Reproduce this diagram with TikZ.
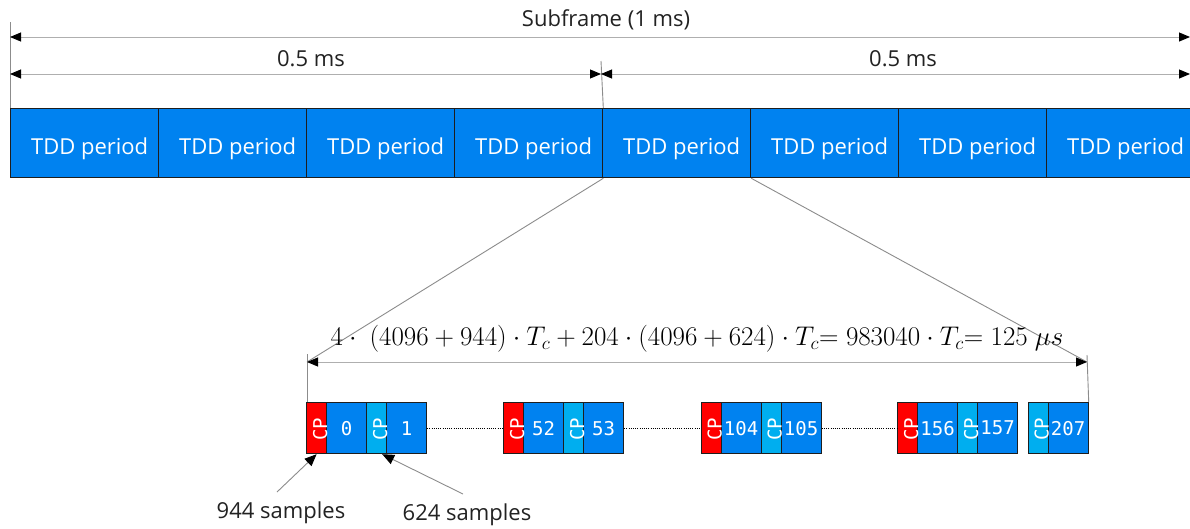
\RequirePackage{fix-cm}
\documentclass[tikz,border=0pt]{standalone}
\usepackage{fontspec}
\setmainfont{Open Sans}
\newfontfamily\monof{DejaVu Sans Mono}
\usetikzlibrary{arrows.meta}
\definecolor{eblue}{HTML}{0082F0}
\definecolor{ecyan}{HTML}{00AEEF}
\definecolor{ered}{HTML}{FF0000}
\definecolor{eline}{HTML}{1E1E1E}
\definecolor{egray}{HTML}{8C8C8C}
\definecolor{etext}{HTML}{222222}
\begin{document}
\begin{tikzpicture}[x=1pt,y=-1pt,
  tdd/.style={draw=eline, line width=1.3pt, fill=eblue, text=white, minimum width=148pt, minimum height=69pt, inner sep=0pt, text height=28.7pt, text depth=5.3pt, anchor=north west, font=\fontsize{22}{26}\selectfont},
  lbl/.style={text=etext, inner sep=0pt, font=\fontsize{22}{26}\selectfont},
  dim/.style={draw=egray!70, line width=0.9pt, {Triangle[length=11pt,width=9pt,color=black]}-{Triangle[length=11pt,width=9pt,color=black]}},
  ref/.style={draw=egray, line width=0.9pt},
  conn/.style={draw=egray, line width=0.9pt},
  ptr/.style={draw=egray, line width=0.9pt, -{Triangle[length=12pt,width=10pt,color=black]}},
  dbox/.style={draw=eline, line width=1.2pt, fill=eblue, text=white, minimum width=40pt, minimum height=51pt, inner sep=0pt, anchor=north west, font=\monof\fontsize{19}{22}\selectfont},
  cpred/.style={draw=eline, line width=1.2pt, fill=ered, minimum width=20pt, minimum height=51pt, inner sep=0pt, anchor=north west},
  cpcyan/.style={draw=eline, line width=1.2pt, fill=ecyan, minimum width=20pt, minimum height=51pt, inner sep=0pt, anchor=north west},
  cptxt/.style={text=white, inner sep=0pt, rotate=90, font=\monof\fontsize{19}{22}\selectfont},
  dots/.style={draw=black, line width=0.7pt, dash pattern=on 1pt off 1.2pt}
]
\clip (0,0) rectangle (1190,528);
\fill[white] (0,0) rectangle (1190,528);

% top bar
\foreach \i in {1,...,8}{
  \node[tdd] (p\i) at ({10+148*(\i-1)},108) {\hspace*{10pt}TDD period};
}

% dimension lines at the top
\coordinate (sfL) at (10,37);
\coordinate (sfR) at (1190,37);
\coordinate (hL) at (10,74);
\coordinate (hM) at (601,74);
\coordinate (hR) at (1190,74);
\coordinate (vL) at (10,22);
\coordinate (vM) at (601,61);
\draw[ref] (vL) -- (p1.north west);
\draw[ref] (vM) -- (p4.north east);
\draw[dim] (sfL) -- (sfR);
\draw[dim] (hL) -- (hM);
\draw[dim] (hM) -- (hR);
\node[lbl] (sf) at (606,20) {Subframe (1 ms)};
\node[lbl] (h1) at (311,59) {0.5 ms};
\node[lbl] (h2) at (903,59) {0.5 ms};

% symbol boxes
\foreach \x/\n/\c in {306/0/cpred, 366/1/cpcyan, 503/52/cpred, 563/53/cpcyan, 700.5/104/cpred, 760.5/105/cpcyan, 897/156/cpred, 957/157/cpcyan, 1027.5/207/cpcyan}{
  \node[dbox] (s\n) at (\x+20,402) {\n};
  \node[\c] (cp\n) at (\x,402) {};
  \node[cptxt] (t\n) at ([xshift=3.5pt,yshift=-1pt]cp\n.center) {CP};
}
\draw[dots] (s1.east) -- (cp52.west);
\draw[dots] (s53.east) -- (cp104.west);
\draw[dots] (s105.east) -- (cp156.west);

% zoom connectors and the lower dimension
\coordinate (dl) at (307,362);
\coordinate (dr) at (1087,362);
\coordinate (dlt) at (307,354);
\coordinate (drt) at (1087,355);
\draw[conn] (p4.south east) -- (dl);
\draw[conn] (p5.south east) -- (dr);
\draw[ref] (dlt) -- ([xshift=1pt]cp0.north west);
\draw[ref] (drt) -- (s207.north east);
\draw[dim] (dl) -- (dr);
\node[text=black, inner sep=0pt] (f) at (697,339) {\fontsize{27}{31}\selectfont$4\cdot\ (4096+944)\cdot T_c+204\cdot(4096+624)\cdot T_c{=}\;983040\cdot T_c{=}\;125\ \mu s$};

% sample pointers
\node[lbl] (n944) at (281,513) {944 samples};
\node[lbl] (n624) at (467,515) {624 samples};
\coordinate (a944) at (277,492);
\coordinate (a624) at (463,494);
\draw[ptr] (a944) -- (cp0.south);
\draw[ptr] (a624) -- ([xshift=-5pt]cp1.south east);
\end{tikzpicture}
\end{document}
